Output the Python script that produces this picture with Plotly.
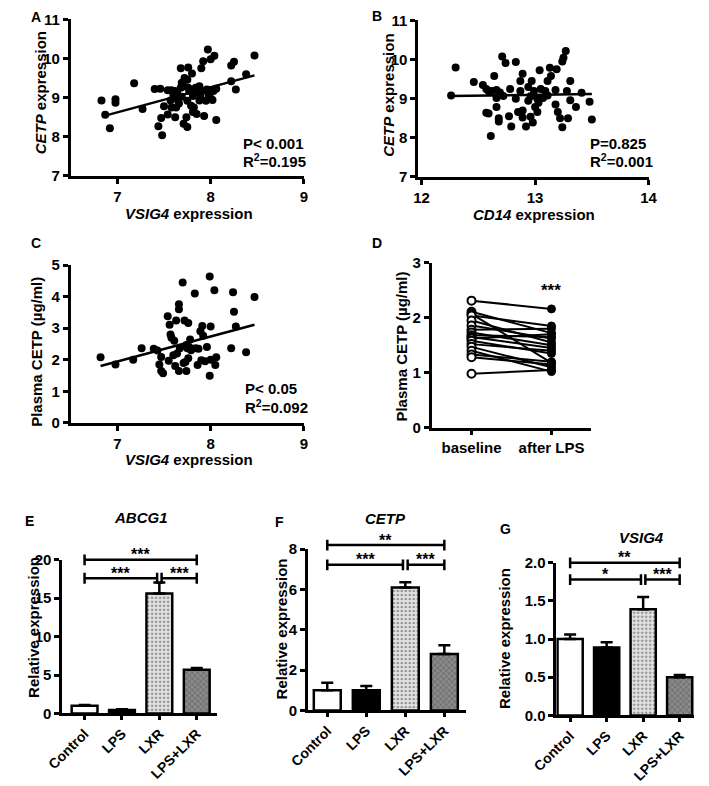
import plotly.graph_objects as go

W, H = 709, 786
FONT = "Arial, Liberation Sans, Helvetica, sans-serif"

# ---------------- data ----------------
# Panel A: VSIG4 vs CETP expression
a_x = [6.83, 6.87, 6.92, 6.98, 6.98, 7.18, 7.27, 7.40, 7.46, 7.44, 7.48, 7.47, 7.50, 7.54, 7.54,
       7.58, 7.57, 7.62, 7.63, 7.60, 7.64, 7.66, 7.68, 7.69, 7.72, 7.71, 7.75, 7.74, 7.76, 7.80,
       7.75, 7.76, 7.77, 7.81, 7.79, 7.82, 7.85, 7.84, 7.88, 7.90, 7.92, 7.97, 7.93, 7.88, 7.91,
       7.96, 8.00, 8.04, 7.98, 8.02, 8.03, 8.06, 8.06, 8.00, 8.22, 8.25, 8.22, 8.27, 8.38, 8.47,
       7.62, 7.68, 7.71, 7.64, 7.69, 7.75, 7.58, 7.84, 7.89, 7.95, 7.81]
a_y = [8.93, 8.56, 8.22, 8.96, 8.87, 9.37, 8.71, 9.22, 9.23, 8.27, 8.04, 8.48, 8.78, 8.57, 9.19,
       9.19, 8.93, 8.50, 8.75, 9.07, 9.12, 8.85, 9.75, 9.38, 9.50, 8.33, 8.25, 8.50, 9.77, 9.62,
       9.46, 9.25, 9.17, 9.04, 8.79, 8.75, 8.58, 9.25, 9.29, 9.75, 9.93, 10.23, 8.53, 8.93, 9.17,
       9.21, 9.98, 10.07, 9.07, 8.94, 9.17, 9.23, 8.43, 8.98, 9.82, 9.92, 9.42, 9.21, 9.60, 10.08,
       9.17, 9.25, 9.29, 8.96, 9.02, 8.92, 8.75, 9.17, 9.04, 8.92, 8.63]
a_fit_x = [6.84, 8.47]
a_fit_y = [8.52, 9.57]

# Panel B: CD14 vs CETP expression
b_x = [12.26, 12.30, 12.46, 12.54, 12.57, 12.59, 12.57, 12.59, 12.64, 12.62, 12.66, 12.69, 12.66,
       12.66, 12.68, 12.68, 12.71, 12.74, 12.72, 12.77, 12.79, 12.83, 12.61, 12.83, 12.85, 12.87,
       12.89, 12.87, 12.89, 12.89, 12.92, 12.94, 12.96, 12.97, 12.96, 12.98, 13.00, 13.02, 12.99,
       13.02, 13.04, 13.05, 13.07, 13.11, 13.09, 13.13, 13.14, 13.19, 13.18, 13.18, 13.20, 13.22,
       13.24, 13.24, 13.25, 13.27, 13.28, 13.31, 13.29, 13.31, 13.36, 13.41, 13.48, 13.50, 12.78,
       13.11, 12.94, 13.03]
b_y = [9.08, 9.80, 9.43, 9.35, 9.25, 9.20, 8.64, 8.62, 9.58, 9.20, 9.22, 9.16, 9.02, 8.79, 8.50,
       8.42, 10.08, 9.91, 9.07, 8.55, 8.29, 9.94, 8.05, 9.00, 8.66, 9.45, 9.64, 9.20, 8.70, 8.52,
       8.29, 9.30, 9.06, 9.45, 8.54, 8.39, 8.79, 9.00, 9.20, 8.66, 9.73, 9.25, 9.02, 9.45, 9.20,
       9.79, 9.58, 9.75, 9.22, 8.85, 8.66, 8.50, 8.27, 9.95, 10.05, 10.22, 9.20, 9.45, 8.50, 8.96,
       8.79, 9.15, 8.92, 8.47, 9.25, 9.08, 8.95, 8.90]
b_fit_x = [12.25, 13.50]
b_fit_y = [9.07, 9.12]

# Panel C: VSIG4 vs plasma CETP
c_x = [6.82, 6.98, 7.17, 7.26, 7.39, 7.43, 7.47, 7.45, 7.47, 7.49, 7.54, 7.56, 7.55, 7.57, 7.58,
       7.60, 7.61, 7.62, 7.63, 7.64, 7.66, 7.66, 7.66, 7.67, 7.70, 7.71, 7.72, 7.73, 7.74, 7.74,
       7.75, 7.76, 7.76, 7.77, 7.78, 7.79, 7.83, 7.84, 7.86, 7.87, 7.89, 7.90, 7.91, 7.92, 7.94,
       7.96, 7.99, 7.99, 8.00, 8.00, 8.04, 8.05, 8.06, 8.22, 8.24, 8.25, 8.27, 8.38, 8.47]
c_y = [2.08, 1.85, 2.00, 2.36, 2.35, 2.29, 2.09, 1.85, 1.64, 1.57, 3.38, 3.11, 1.97, 2.80, 2.70,
       2.14, 2.60, 1.80, 3.24, 2.20, 3.76, 3.60, 1.64, 2.36, 4.45, 1.90, 3.24, 1.93, 2.47, 1.64,
       2.36, 3.16, 2.05, 2.40, 2.64, 2.30, 4.10, 2.36, 1.83, 2.35, 2.90, 1.98, 3.07, 2.76, 1.95,
       2.40, 1.49, 4.64, 2.00, 3.05, 4.20, 1.83, 2.08, 2.36, 4.14, 3.52, 3.05, 2.24, 3.99]
c_fit_x = [6.82, 8.47]
c_fit_y = [1.80, 3.11]

# Panel D: paired plasma CETP
d_categories = ["baseline", "after LPS"]
d_baseline = [2.31, 2.11, 2.07, 2.04, 1.95, 1.86, 1.78, 1.73, 1.68, 1.65, 1.62, 1.58, 1.52, 1.47,
              1.40, 1.33, 1.28, 0.98]
d_after = [2.16, 1.72, 1.18, 1.85, 1.55, 1.62, 1.80, 1.50, 1.65, 1.45, 1.70, 1.35, 1.40, 1.10,
           1.02, 1.20, 1.15, 1.05]

# Panels E-G: bar charts
groups = ["Control", "LPS", "LXR", "LPS+LXR"]
e_vals = [1.0, 0.45, 15.6, 5.7]
e_err = [0.1, 0.08, 1.45, 0.2]
f_vals = [1.0, 1.0, 6.1, 2.8]
f_err = [0.37, 0.21, 0.25, 0.43]
g_vals = [1.0, 0.89, 1.39, 0.5]
g_err = [0.06, 0.07, 0.16, 0.03]

# ---------------- layout helpers ----------------
def xp(px):
    return px / W


def yp(py):
    return 1 - py / H


panels = {
    "A": dict(x="x", y="y", xdom=(48, 293), ydom=(10.7, 170.5), xr=(6.5, 9), yr=(7, 11)),
    "B": dict(x="x2", y="y2", xdom=(413, 655), ydom=(11.7, 171.7), xr=(11.97, 14), yr=(7, 11)),
    "C": dict(x="x3", y="y3", xdom=(48, 293), ydom=(261.7, 423), xr=(6.5, 9), yr=(0, 5)),
    "D": dict(x="x4", y="y4", xdom=(427, 595), ydom=(259.3, 428), xr=(-0.5, 1.5), yr=(0, 3)),
    "E": dict(x="x5", y="y5", xdom=(39, 202), ydom=(563, 720), xr=(-0.6, 3.55), yr=(0, 20)),
    "F": dict(x="x6", y="y6", xdom=(297, 463), ydom=(552, 717), xr=(-0.5, 3.55), yr=(0, 8)),
    "G": dict(x="x7", y="y7", xdom=(558, 703), ydom=(566, 722), xr=(-0.38, 3.4), yr=(0, 2)),
}


def ydata_to_paper(p, v):
    c = panels[p]
    bot, top = yp(c["ydom"][1]), yp(c["ydom"][0])
    return bot + (v - c["yr"][0]) / (c["yr"][1] - c["yr"][0]) * (top - bot)


fig = go.Figure()

# scatter panels
for p, xs, ys, fx, fy in [("A", a_x, a_y, a_fit_x, a_fit_y),
                          ("B", b_x, b_y, b_fit_x, b_fit_y),
                          ("C", c_x, c_y, c_fit_x, c_fit_y)]:
    c = panels[p]
    fig.add_trace(go.Scatter(x=xs, y=ys, mode="markers", xaxis=c["x"], yaxis=c["y"],
                             marker=dict(color="black", size=8), showlegend=False,
                             cliponaxis=False))
    fig.add_trace(go.Scatter(x=fx, y=fy, mode="lines", xaxis=c["x"], yaxis=c["y"],
                             line=dict(color="black", width=2.5), showlegend=False))

# paired panel D
c = panels["D"]
lx, ly = [], []
for b, a in zip(d_baseline, d_after):
    lx += [0, 1, None]
    ly += [b, a, None]
fig.add_trace(go.Scatter(x=lx, y=ly, mode="lines", xaxis=c["x"], yaxis=c["y"],
                         line=dict(color="black", width=2), showlegend=False))
fig.add_trace(go.Scatter(x=[0] * len(d_baseline), y=d_baseline, mode="markers",
                         xaxis=c["x"], yaxis=c["y"], showlegend=False,
                         marker=dict(color="white", size=8, line=dict(color="black", width=2))))
fig.add_trace(go.Scatter(x=[1] * len(d_after), y=d_after, mode="markers",
                         xaxis=c["x"], yaxis=c["y"], showlegend=False,
                         marker=dict(color="black", size=8, line=dict(color="black", width=1))))

# bar panels
bar_colors = ["white", "black", "#e4e4e4", "#8a8a8a"]
pat_shapes = ["", "", ".", "x"]
pat_fg = ["black", "black", "#a8a8a8", "#3a3a3a"]
for p, vals, errs in [("E", e_vals, e_err), ("F", f_vals, f_err), ("G", g_vals, g_err)]:
    c = panels[p]
    fig.add_trace(go.Bar(
        x=list(range(len(groups))), y=vals, xaxis=c["x"], yaxis=c["y"], width=0.69,
        showlegend=False,
        marker=dict(color=bar_colors, line=dict(color="black", width=2.5),
                    pattern=dict(shape=pat_shapes, fgcolor=pat_fg, bgcolor=bar_colors,
                                 size=4, solidity=0.35)),
        error_y=dict(type="data", array=errs, arrayminus=[0] * len(errs), symmetric=False,
                     color="black", thickness=2.5, width=6),
    ))

# axes
def axis_base():
    return dict(showline=True, linecolor="black", linewidth=2.5, ticks="outside", ticklen=5,
                tickwidth=2.5, tickcolor="black", showgrid=False, zeroline=False,
                fixedrange=True,
                tickfont=dict(family=FONT, size=15, color="black", weight="bold"))


tickvals = {
    "A": ([7, 8, 9], [7, 8, 9, 10, 11]),
    "B": ([12, 13, 14], [7, 8, 9, 10, 11]),
    "C": ([7, 8, 9], [0, 1, 2, 3, 4, 5]),
    "D": ([0, 1], [0, 1, 2, 3]),
    "E": ([0, 1, 2, 3], [0, 5, 10, 15, 20]),
    "F": ([0, 1, 2, 3], [0, 2, 4, 6, 8]),
    "G": ([0, 1, 2, 3], [0, 0.5, 1.0, 1.5, 2.0]),
}

layout_axes = {}
for p, c in panels.items():
    xk = "xaxis" + c["x"][1:]
    yk = "yaxis" + c["y"][1:]
    xa = axis_base()
    xa.update(domain=[xp(c["xdom"][0]), xp(c["xdom"][1])], range=list(c["xr"]),
              anchor=c["y"], tickvals=tickvals[p][0])
    ya = axis_base()
    ya.update(domain=[yp(c["ydom"][1]), yp(c["ydom"][0])], range=list(c["yr"]),
              anchor=c["x"], tickvals=tickvals[p][1])
    if p == "D":
        xa.update(ticktext=d_categories)
    if p in ("E", "F", "G"):
        xa.update(ticktext=groups, tickangle=-45, ticklen=4,
                  tickfont=dict(family=FONT, size=14, color="black", weight="bold"))
    if p == "G":
        ya.update(tickformat=".1f")
    layout_axes[xk] = xa
    layout_axes[yk] = ya

fig.update_layout(**layout_axes)

# ---------------- annotations ----------------
ann = []


def txt(text, x, y, size=15, angle=0, xanchor="center", yanchor="middle", **kw):
    d = dict(text=text, x=xp(x), y=yp(y), xref="paper", yref="paper", showarrow=False,
             font=dict(family=FONT, size=size, color="black"), textangle=angle,
             xanchor=xanchor, yanchor=yanchor)
    d.update(kw)
    ann.append(d)


# panel letters
for L, (x, y) in {"A": (12, 8), "B": (370, 7), "C": (12, 239), "D": (370, 239),
                  "E": (5, 523), "F": (267, 524), "G": (505, 531)}.items():
    txt("<b>%s</b>" % L, x, y, size=14)

# axis titles
txt("<b><i>CETP</i> expression</b>", 16, 86, angle=-90)
txt("<b><i>VSIG4</i> expression</b>", 172, 209)
txt("<b><i>CETP</i> expression</b>", 381, 88, angle=-90)
txt("<b><i>CD14</i> expression</b>", 535, 210)
txt("<b>Plasma CETP (µg/ml)</b>", 12, 350, angle=-90)
txt("<b><i>VSIG4</i> expression</b>", 172, 460)
txt("<b>Plasma CETP (µg/ml)</b>", 396, 345, angle=-90)
txt("<b>Relative expression</b>", 9, 632, angle=-90)
txt("<b>Relative expression</b>", 269, 634, angle=-90)
txt("<b>Relative expression</b>", 503, 643, angle=-90)

# bar titles
txt("<b><i>ABCG1</i></b>", 122, 520, size=15)
txt("<b><i>CETP</i></b>", 379, 521, size=15)
txt("<b><i>VSIG4</i></b>", 648, 540, size=15)

# stats
txt("<b>P&lt; 0.001</b>", 227, 137, xanchor="left")
txt("<b>R<sup>2</sup>=0.195</b>", 227, 155, xanchor="left")
txt("<b>P=0.825</b>", 591, 137, xanchor="left")
txt("<b>R<sup>2</sup>=0.001</b>", 591, 155, xanchor="left")
txt("<b>P&lt; 0.05</b>", 229, 388, xanchor="left")
txt("<b>R<sup>2</sup>=0.092</b>", 229, 406, xanchor="left")

# significance brackets: (panel, x_start, x_end, level, label)
brackets = [
    ("E", 0, 3, 20.0, "***"), ("E", 0, 1.94, 17.6, "***"), ("E", 2.06, 3, 17.6, "***"),
    ("F", 0, 3, 8.2, "**"), ("F", 0, 1.94, 7.22, "***"), ("F", 2.06, 3, 7.22, "***"),
    ("G", 0, 3, 2.0, "**"), ("G", 0, 1.94, 1.78, "*"), ("G", 2.06, 3, 1.78, "***"),
]
shapes = []
cap = 5.5 / H
for p, x0, x1, lev, lab in brackets:
    c = panels[p]
    yv = ydata_to_paper(p, lev)
    line = dict(color="black", width=2.5)
    shapes.append(dict(type="line", xref=c["x"], yref="paper", x0=x0, x1=x1, y0=yv, y1=yv, line=line))
    for xe in (x0, x1):
        shapes.append(dict(type="line", xref=c["x"], yref="paper", x0=xe, x1=xe,
                           y0=yv - cap, y1=yv + cap, line=line))
    ann.append(dict(text="<b>%s</b>" % lab, x=(x0 + x1) / 2, xref=c["x"], y=yv + 5 / H,
                    yref="paper", showarrow=False, xanchor="center", yanchor="middle",
                    borderpad=0, font=dict(family=FONT, size=16, color="black")))

# D significance
ann.append(dict(text="<b>***</b>", x=1, xref="x4", y=ydata_to_paper("D", 2.5), yref="paper",
                showarrow=False, xanchor="center", yanchor="middle",
                font=dict(family=FONT, size=17, color="black")))

fig.update_layout(
    width=W, height=H, margin=dict(l=0, r=0, t=0, b=0),
    paper_bgcolor="white", plot_bgcolor="white",
    font=dict(family=FONT, color="black"),
    annotations=ann, shapes=shapes, showlegend=False, bargap=0.3,
)

fig.write_html("out.html", config={"displayModeBar": False},
               post_script="document.body.style.margin='0px';document.body.style.overflow='hidden';")
